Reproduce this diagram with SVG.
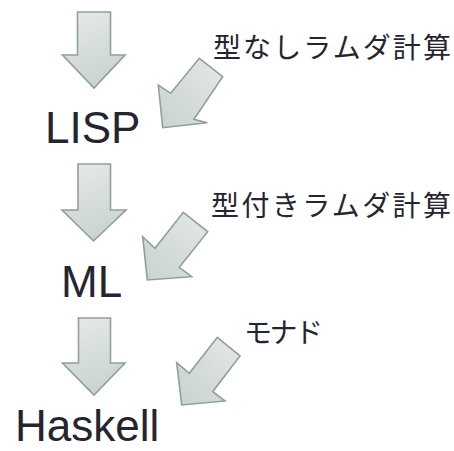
<svg xmlns="http://www.w3.org/2000/svg" width="454" height="451" viewBox="0 0 454 451">
<defs>
<linearGradient id="g" x1="0" y1="0" x2="0.3" y2="1">
<stop offset="0" stop-color="#e6ebe8"/>
<stop offset="1" stop-color="#cbd4cf"/>
</linearGradient>
<linearGradient id="gd" x1="1" y1="0" x2="0" y2="1">
<stop offset="0" stop-color="#e4e9e6"/>
<stop offset="1" stop-color="#c9d2cd"/>
</linearGradient>
</defs>
<style>
.arr{fill:url(#g);stroke:#8fa197;stroke-width:1.6;stroke-linejoin:miter}
.darr{fill:url(#gd);stroke:#8fa197;stroke-width:1.6;stroke-linejoin:miter}
.lang{font-family:"Liberation Sans",Arial,sans-serif;font-size:44px;fill:#25252f}
.jp{font-family:"Noto Sans CJK JP","Noto Sans",sans-serif;font-size:28px;fill:#25252f}
</style>
<g id="connectors">
<polygon class="arr" points="77.5,12 110.5,12 110.5,55 125,55 94,88 62.5,55 77.5,55"/>
<polygon class="arr" points="78,164 110.5,164 110.5,210 126,210 93.5,241 62,210 78,210"/>
<polygon class="arr" points="78.5,318 110.5,318 110.5,363 125,363 94,395 62.5,363 78.5,363"/>
<polygon class="darr" points="199.3,58.3 222.7,76.7 194,119.3 207.3,122.7 162.7,127.7 158.3,85 170.7,93.3"/>
<polygon class="darr" points="183.3,212.3 207.7,231.7 179.3,267.3 191.7,276.7 147.3,280 142.7,236.7 155,248.3"/>
<polygon class="darr" points="217.3,337.3 240,356 212.7,391.7 225,401 181.7,405 176.7,362.7 189.3,373.3"/>
</g>
<g id="lisp"><text class="lang" x="45" y="143">LISP</text></g>
<g id="ml"><text class="lang" x="61" y="297">ML</text></g>
<g id="haskell"><text class="lang" x="15" y="441">Haskell</text></g>
<g id="untyped"><text class="jp" x="213" y="58" textLength="238" lengthAdjust="spacing">型なしラムダ計算</text></g>
<g id="typed"><text class="jp" x="211" y="216" textLength="240" lengthAdjust="spacing">型付きラムダ計算</text></g>
<g id="monad"><text class="jp" x="244" y="343" textLength="79" lengthAdjust="spacing">モナド</text></g>
</svg>
